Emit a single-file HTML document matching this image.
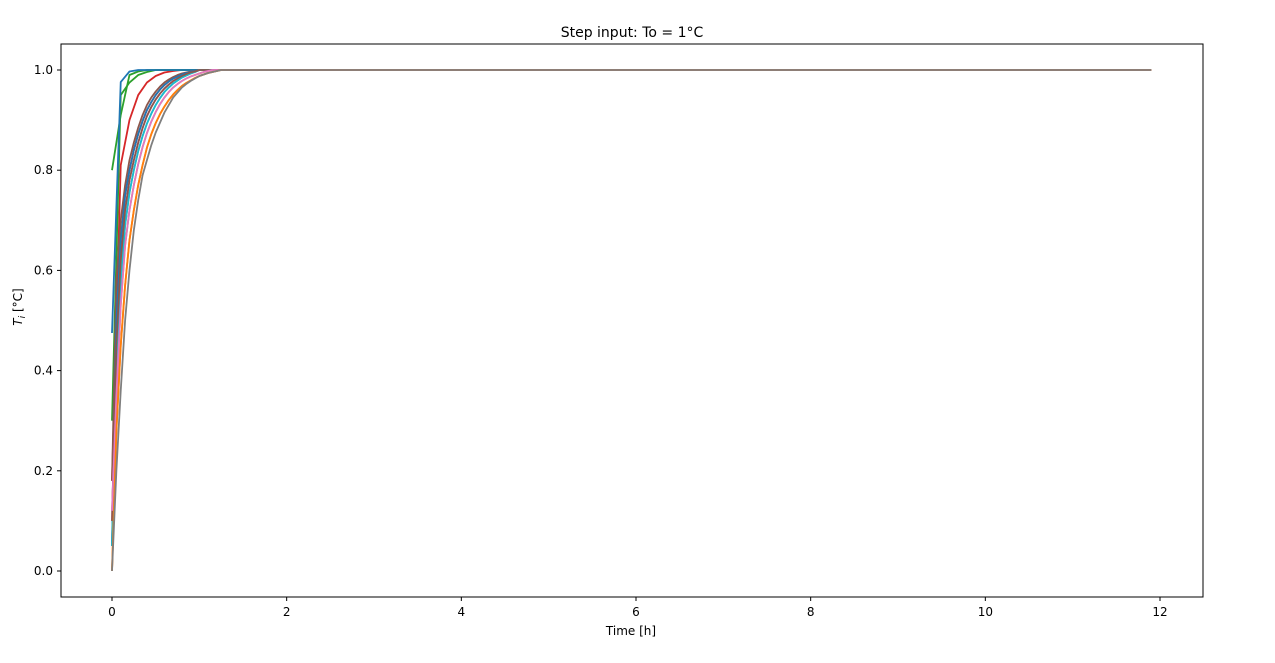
<!DOCTYPE html>
<html><head><meta charset="utf-8"><style>
body{margin:0;background:#fff;font-family:"Liberation Sans","DejaVu Sans",sans-serif}
svg text{font-family:"DejaVu Sans","Liberation Sans",sans-serif;fill:#000}
</style></head><body>
<svg id="chart" width="1275" height="658" viewBox="0 0 1275 658">
<rect x="0" y="0" width="1275" height="658" fill="#fff"/>
<text x="632" y="37" text-anchor="middle" font-size="14">Step input: To = 1°C</text>
<g id="marks"></g>
<g id="axes"></g>
<rect x="61" y="44" width="1142" height="553" fill="none" stroke="#000" stroke-width="1"/>
<text x="631" y="635" text-anchor="middle" font-size="12">Time [h]</text>
<text transform="translate(22,307) rotate(-90)" text-anchor="middle" font-size="12"><tspan font-style="italic">T</tspan><tspan font-style="italic" font-size="9" dy="3">i</tspan><tspan dy="-3"> [°C]</tspan></text>
</svg>
<script>
const xTicks=[0,2,4,6,8,10,12];
const yTicks=[0.0,0.2,0.4,0.6,0.8,1.0];
const tEnd=11.9;
const steadyValue=1.0;
const fineStep=0.05;
const coarseStep=0.1;
const bBrown=[0.18,0.58,0.70,0.77,0.82,0.855,0.885,0.91,0.93,0.945,0.957,0.967,0.975,0.981,0.986,0.99,0.993,0.995,0.997,0.998,1];
const bI1=[0.05,0.5,0.66,0.75,0.8,0.84,0.872,0.898,0.92,0.936,0.95,0.961,0.97,0.977,0.983,0.987,0.991,0.994,0.996,0.998,1];
const bI2=[0.1,0.45,0.62,0.72,0.78,0.82,0.855,0.884,0.908,0.926,0.941,0.953,0.963,0.971,0.978,0.983,0.988,0.992,0.995,0.997,1];
const bI3=[0.05,0.4,0.58,0.69,0.755,0.8,0.838,0.868,0.893,0.913,0.93,0.944,0.956,0.965,0.973,0.979,0.985,0.989,0.993,0.996,1];
const bI4=[0.12,0.35,0.53,0.65,0.72,0.77,0.812,0.846,0.874,0.897,0.916,0.932,0.945,0.956,0.965,0.972,0.978,0.983,0.987,0.99,0.993,0.996,0.998,1];
const bI5=[0,0.28,0.45,0.57,0.66,0.72,0.77,0.81,0.845,0.872,0.894,0.912,0.927,0.94,0.951,0.96,0.968,0.974,0.979,0.984,0.988,0.991,0.994,0.996,0.998,1];
const bGray=[0,0.2,0.36,0.5,0.6,0.68,0.74,0.79,0.82,0.85,0.875,0.895,0.915,0.93,0.945,0.955,0.965,0.972,0.978,0.983,0.988,0.991,0.994,0.996,0.998,1];
const fRed=[0.18,0.81,0.90,0.95,0.975,0.988,0.995,0.998,1];
const fGreen2=[0.3,0.95,0.975,0.99,0.996,1];
const fGreen1=[0.80,0.91,0.99,0.997,1];
const fBlue=[0.475,0.976,0.997,1];
const series=[fRed,fGreen2,fGreen1,fBlue,bBrown,bI1,bI2,bI3,bI4,bI5,bI1,bI3,bI2,bI4,bI5,bGray];
const steps=[coarseStep,coarseStep,coarseStep,coarseStep,fineStep,fineStep,fineStep,fineStep,fineStep,fineStep,fineStep,fineStep,fineStep,fineStep,fineStep,fineStep];
const seriesColors=["#d62728","#2ca02c","#2ca02c","#1f77b4","#8c564b","#d62728","#e377c2","#9467bd","#bcbd22","#ff7f0e","#1f77b4","#17becf","#8c564b","#e377c2","#ff7f0e","#7f7f7f"];
const NS="http://www.w3.org/2000/svg";
function xs(v){return 112+(v-0)*(1160-112)/12;}
function ys(v){return 571-(v-0)*(571-70)/1.0;}
const marks=document.getElementById('marks');
series.forEach((s,i)=>{
  const pts=[];
  s.forEach((v,k)=>pts.push(xs(k*steps[i]).toFixed(2)+","+ys(v).toFixed(2)));
  pts.push(xs(tEnd).toFixed(2)+","+ys(steadyValue).toFixed(2));
  const p=document.createElementNS(NS,'polyline');
  p.setAttribute('points',pts.join(' '));
  p.setAttribute('fill','none');
  p.setAttribute('stroke',seriesColors[i]);
  p.setAttribute('stroke-width','1.8');
  p.setAttribute('stroke-linejoin','round');
  
  
  marks.appendChild(p);
});
const axes=document.getElementById('axes');
xTicks.forEach(t=>{
  const l=document.createElementNS(NS,'line');
  l.setAttribute('x1',xs(t));l.setAttribute('x2',xs(t));l.setAttribute('y1',597);l.setAttribute('y2',601);l.setAttribute('stroke','#000');
  
  
  axes.appendChild(l);
  const tx=document.createElementNS(NS,'text');
  tx.setAttribute('x',xs(t));tx.setAttribute('y',616);tx.setAttribute('text-anchor','middle');tx.setAttribute('font-size','12');
  tx.textContent=String(t);
  
  
  axes.appendChild(tx);
});
yTicks.forEach(t=>{
  const l=document.createElementNS(NS,'line');
  l.setAttribute('x1',57);l.setAttribute('x2',61);l.setAttribute('y1',ys(t));l.setAttribute('y2',ys(t));l.setAttribute('stroke','#000');
  
  
  axes.appendChild(l);
  const tx=document.createElementNS(NS,'text');
  tx.setAttribute('x',53);tx.setAttribute('y',ys(t)+4);tx.setAttribute('text-anchor','end');tx.setAttribute('font-size','12');
  tx.textContent=t.toFixed(1);
  
  
  axes.appendChild(tx);
});
</script>
</body></html>
